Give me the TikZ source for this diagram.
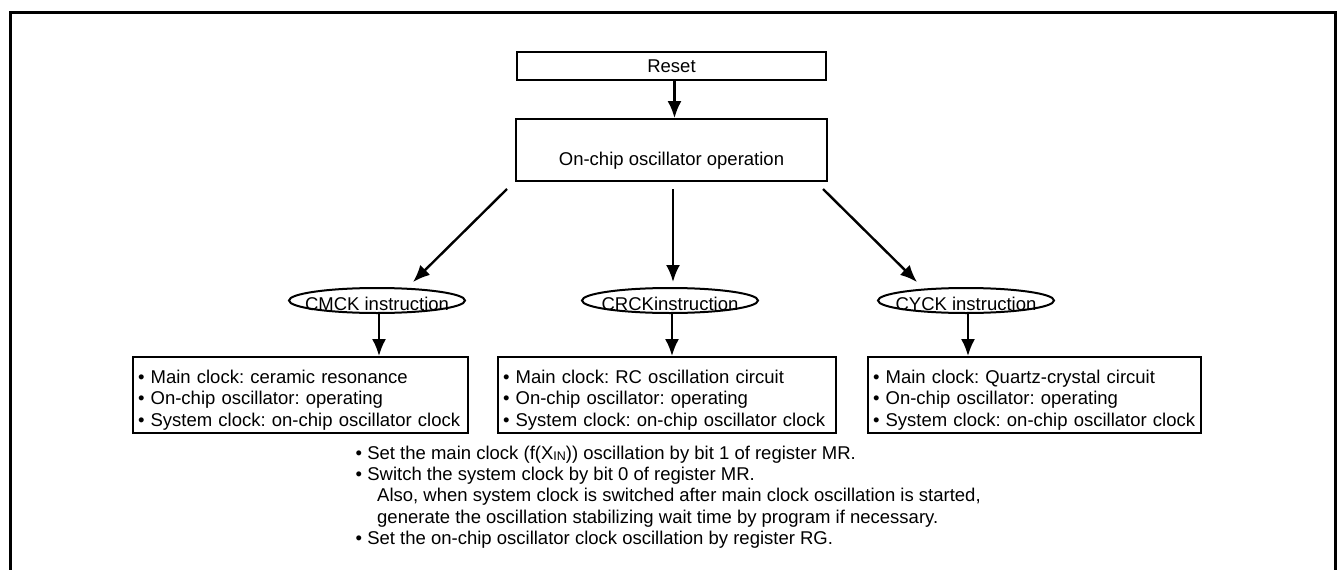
\documentclass[tikz,border=0pt]{standalone}
\usepackage{fontspec}
\setmainfont{Liberation Sans}
\usetikzlibrary{arrows.meta,shapes.geometric}
\frenchspacing
\begin{document}
\begin{tikzpicture}[x=1pt,y=-1pt,
    box/.style={draw, line width=1.8pt, inner sep=0pt},
    insn/.style={draw, ellipse, line width=2pt, inner sep=0pt, minimum width=176pt, minimum height=25pt},
    >={Latex[length=17pt,width=14pt]},
    font=\fontsize{18.5}{21.5}\selectfont]
    \useasboundingbox (0,0) rectangle (1339,570);
    % frame
    \draw[line width=3pt] (10,570) -- (10,12) -- (1335,12) -- (1335,570);
    % reset and on-chip oscillator
    \node[box, minimum width=309pt, minimum height=28pt] (reset) at (671.5,66) {Reset};
    \node[box, minimum width=311pt, minimum height=62pt] (onchip) at (671.5,150)
        {\raisebox{-15pt}[0pt][0pt]{On-chip oscillator operation}};
    \draw[->, line width=2.4pt] ([xshift=3pt]reset.south) -- ([xshift=3pt]reset.south |- onchip.north);
    % the three instructions
    \foreach \n/\xs/\xe/\xi/\xb/\wb/\ins/\main in {
        1/507/413/377/300.5/335/{CMCK instruction}/{ceramic resonance},
        2/673/673/670/667/338/{CRCKinstruction}/{RC oscillation circuit},
        3/823/917/966/1034.5/333/{CYCK instruction}/{Quartz-crystal circuit}} {
        \pgfmathsetmacro\tw{\wb-10}
        \coordinate (from\n) at (\xs,189);
        \coordinate (to\n) at (\xe,282);
        \draw[->, line width=2.4pt] (from\n) -- (to\n);
        \node[insn] (ins\n) at (\xi,300.5) {\makebox[0pt]{\raisebox{-10pt}[0pt][0pt]{\ins}}};
        \node[box, minimum width=\wb pt, minimum height=76pt, inner xsep=5pt,
            text width=\tw pt, align=left] (clk\n) at (\xb,395)
            {\rule{0pt}{23pt}• Main clock: \main\\
             • On-chip oscillator: operating\\
             • System clock: on-chip oscillator clock};
        \draw[->, line width=2.4pt] ([xshift=2pt]ins\n.south) -- ([xshift=2pt]ins\n.south |- clk\n.north);
    }
    % notes
    \node[anchor=north west, inner sep=0pt, align=left, font=\fontsize{18.5}{21.3}\selectfont] (notes) at (355.5,445.5)
        {• Set the main clock (f(X\raisebox{-1pt}{\fontsize{12.5}{12.5}\selectfont IN})) oscillation by bit 1 of register MR.\\
         • Switch the system clock by bit 0 of register MR.\\
         \hspace*{21.5pt}Also, when system clock is switched after main clock oscillation is started,\\
         \hspace*{21.5pt}generate the oscillation stabilizing wait time by program if necessary.\\
         • Set the on-chip oscillator clock oscillation by register RG.};
\end{tikzpicture}
\end{document}
